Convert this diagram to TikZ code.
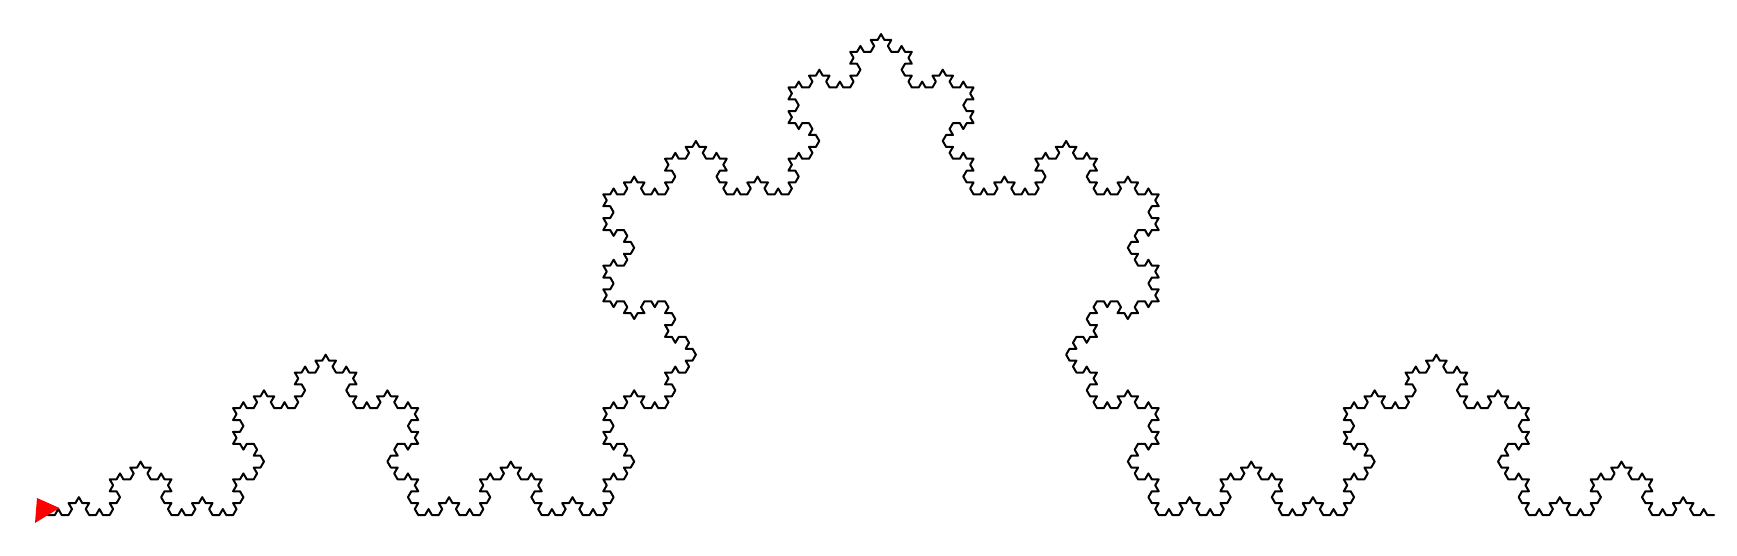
\documentclass[tikz,border=0pt]{standalone}
\usetikzlibrary{lindenmayersystems}
\pgfdeclarelindenmayersystem{Koch curve}{
  \rule{F -> F+F--F+F}
}
\tikzset{
  kochline/.style={draw=black,line width=2pt,line join=round,line cap=round},
  cursor/.style={fill=red,draw=none}
}
\begin{document}
\begin{tikzpicture}[x=1pt,y=1pt]
\useasboundingbox (0,0) rectangle (1737,555);
\fill[white] (0,0) rectangle (1737,555);
\begin{scope}[shift={(48,40)}]
\draw[kochline,l-system={Koch curve,axiom=F,order=5,angle=60,step=6.856pt}] (0,0) lindenmayer system;
\end{scope}
\fill[cursor] (37,57) -- (59.5,47) -- (35,32) -- cycle;
\end{tikzpicture}
\end{document}
